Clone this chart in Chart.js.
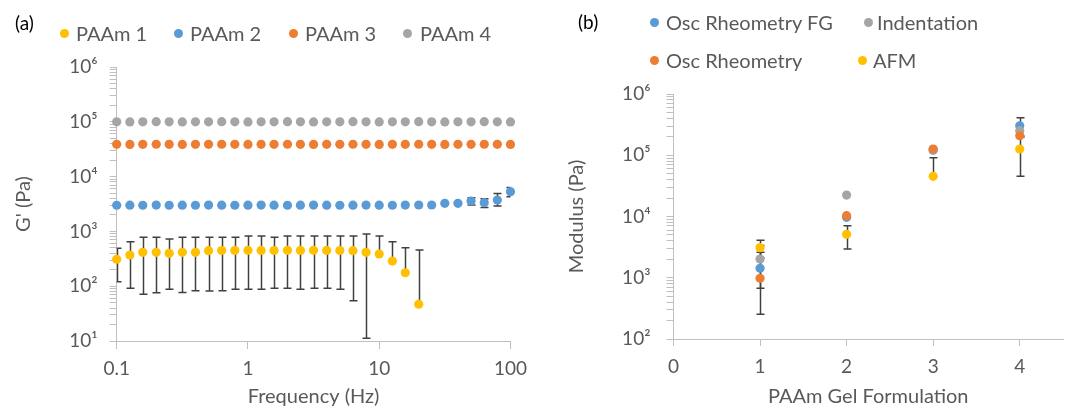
<!DOCTYPE html>
<html>
<head>
<meta charset="utf-8">
<script src="https://cdn.jsdelivr.net/npm/chart.js@4.4.1/dist/chart.umd.min.js"></script>
<style>
html,body{margin:0;padding:0;background:#fff;}
#wrap{position:relative;width:1070px;height:410px;overflow:hidden;font-family:Lato,'Open Sans',sans-serif;}
.panel{position:absolute;top:0;width:535px;height:410px;}
#pa{left:0;} #pb{left:535px;}
.plab{position:absolute;color:#000;font-size:19px;line-height:1;transform:translateY(-50%);}
.ldot{position:absolute;width:9px;height:9px;border-radius:50%;}
.ltxt{position:absolute;color:#595959;font-size:20px;line-height:1;white-space:nowrap;transform:translateY(-50%);}
</style>
</head>
<body>
<div id="wrap">
  <div class="panel" id="pa"><canvas id="ca" width="535" height="410"></canvas></div>
  <div class="panel" id="pb"><canvas id="cb" width="535" height="410"></canvas></div>
  <div class="plab" style="left:15px;top:22px;">(a)</div>
  <div class="plab" style="left:578px;top:21px;">(b)</div>
</div>
<script>
// ---------------- DATA: panel (a) ----------------
const freqHz = [0.1,0.126,0.158,0.2,0.251,0.316,0.398,0.501,0.631,0.794,1,1.26,1.58,2,2.51,3.16,3.98,5.01,6.31,7.94,10,12.6,15.8,20,25.1,31.6,39.8,50.1,63.1,79.4,100];
const paam1 = [310,371,415,415,398,415,415,445,448,450,452,450,448,452,450,452,450,448,445,415,387,288,176,47];
const paam1Hi = [492,649,780,780,726,780,780,780,780,780,824,824,780,824,824,824,824,824,824,897,824,649,505,458];
const paam1Lo = [121,92,71,76,88,77,83,82,83,88,88,88,92,92,88,92,92,88,54,11.2,null,null,null,null];
const paam2 = [3000,3010,3000,3020,3000,3010,3000,3020,3010,3000,3010,3020,3010,3000,3010,3020,3010,3000,3010,3020,3010,3000,3020,3030,3030,3260,3260,3590,3340,3740,5300];
const paam2Hi = [null,null,null,null,null,null,null,null,null,null,null,null,null,null,null,null,null,null,null,null,null,null,null,null,null,null,null,4120,3940,4900,6300];
const paam2Lo = [null,null,null,null,null,null,null,null,null,null,null,null,null,null,null,null,null,null,null,null,null,null,null,null,null,null,null,3040,2740,2900,4300];
const paam3 = [38800,38700,38800,38900,38800,38700,38800,38800,38900,38800,38700,38800,38800,38900,38800,38700,38800,38800,38900,38800,38700,38800,38800,38900,38800,38700,38800,38800,38900,38800,38700];
const paam4 = [100000,99500,100000,100500,100000,99500,100000,100000,100500,100000,99500,100000,100000,100500,100000,99500,100000,100000,100500,100000,99500,100000,100000,100500,100000,99500,100000,100000,100500,100000,99500];
const freqTickLabels = [0.1, 1, 10, 100];
const gDecades = [10, 100, 1000, 10000, 100000, 1000000];

// ---------------- DATA: panel (b) ----------------
const formulation = [1, 2, 3, 4];
const oscFG = [1430, 9700, 121000, 303000];
const oscFGHi = [2610, null, null, 410000];
const oscFGLo = [253, null, null, 196000];
const indentation = [2020, 22400, 124000, 252000];
const indentationHi = [3370, null, null, null];
const indentationLo = [673, null, null, null];
const oscRheo = [980, 10300, 126000, 208000];
const afm = [3100, 5120, 45300, 126000];
const afmHi = [4080, 7080, 91200, 207000];
const afmLo = [2120, 2940, null, 45300];
const formulationTicks = [0, 1, 2, 3, 4];
const modDecades = [100, 1000, 10000, 100000, 1000000];

// ---------------- STYLE ----------------
const C = {yellow:'#FFC000', blue:'#5B9BD5', orange:'#ED7D31', gray:'#A5A5A5', text:'#595959', axis:'#BFBFBF', err:'#404040'};
const FONT = 'Lato';
Chart.defaults.font.family = FONT;
Chart.defaults.color = C.text;

const legendA = [
  {text:'PAAm 1', color:C.yellow, dot:[64,33], tx:76},
  {text:'PAAm 2', color:C.blue, dot:[178,33], tx:190},
  {text:'PAAm 3', color:C.orange, dot:[293,33], tx:305},
  {text:'PAAm 4', color:C.gray, dot:[407,33], tx:420}
];
const legendB = [
  {text:'Osc Rheometry FG', color:C.blue, dot:[654,22], tx:666},
  {text:'Indentation', color:C.gray, dot:[868,22], tx:877},
  {text:'Osc Rheometry', color:C.orange, dot:[654,60], tx:666},
  {text:'AFM', color:C.yellow, dot:[862,60], tx:873}
];
const wrap = document.getElementById('wrap');
[...legendA, ...legendB].forEach(it => {
  const d = document.createElement('div');
  d.className = 'ldot';
  d.style.left = (it.dot[0] - 4.5) + 'px';
  d.style.top = (it.dot[1] - 4.5) + 'px';
  d.style.background = it.color;
  wrap.appendChild(d);
  const t = document.createElement('div');
  t.className = 'ltxt';
  t.style.left = it.tx + 'px';
  t.style.top = it.dot[1] + 'px';
  t.textContent = it.text;
  wrap.appendChild(t);
});

const SUP = {'1':'\u00B9','2':'\u00B2','3':'\u00B3','4':'\u2074','5':'\u2075','6':'\u2076'};
function powLabel(v) {
  const e = Math.log10(v);
  const r = Math.round(e);
  return Math.abs(e - r) < 1e-6 ? '10' + SUP[String(r)] : '';
}
function logMinorTicks(decades) {
  const out = [];
  decades.forEach((d, i) => {
    if (i === decades.length - 1) { out.push(d); return; }
    for (let k = 1; k <= 9; k++) out.push(d * k);
  });
  return out;
}

const errorBars = {
  id: 'errorBars',
  beforeDatasetsDraw(chart, args, opts) {
    const {ctx, chartArea, scales} = chart;
    const xs = scales.x, ys = scales.y;
    ctx.save();
    ctx.beginPath();
    ctx.rect(chartArea.left, chartArea.top - 20, chartArea.right - chartArea.left, chartArea.bottom - chartArea.top + 20);
    ctx.clip();
    ctx.strokeStyle = opts.color;
    ctx.lineWidth = opts.width;
    const cap = opts.cap;
    chart.data.datasets.forEach(ds => {
      if (!ds.errHi && !ds.errLo) return;
      ds.data.forEach((p, i) => {
        const hi = ds.errHi ? ds.errHi[i] : null;
        const lo = ds.errLo ? ds.errLo[i] : null;
        if (hi == null && lo == null) return;
        const px = Math.round(xs.getPixelForValue(p.x)) + 0.5;
        const py = ys.getPixelForValue(p.y);
        const yh = hi != null ? ys.getPixelForValue(hi) : py;
        const yl = lo != null ? ys.getPixelForValue(lo) : py;
        ctx.beginPath();
        ctx.moveTo(px, yh); ctx.lineTo(px, yl);
        if (hi != null) { ctx.moveTo(px - cap, yh); ctx.lineTo(px + cap, yh); }
        if (lo != null) { ctx.moveTo(px - cap, yl); ctx.lineTo(px + cap, yl); }
        ctx.stroke();
      });
    });
    ctx.restore();
  }
};

function pts(xs, ys) { return ys.map((v, i) => ({x: xs[i], y: v})); }
function ds(label, xs, ys, color, order, hi, lo) {
  return {label, data: pts(xs, ys), backgroundColor: color, borderColor: color, borderWidth: 0,
    pointRadius: 4.6, pointHoverRadius: 4.6, showLine: false, clip: false, order, errHi: hi, errLo: lo};
}
const tickFont = {family: FONT, size: 19};
const titleFont = {family: FONT, size: 20};

// ---------------- Chart (a) ----------------
new Chart(document.getElementById('ca'), {
  type: 'scatter',
  data: {datasets: [
    ds('PAAm 1', freqHz, paam1, C.yellow, 1, paam1Hi, paam1Lo),
    ds('PAAm 2', freqHz, paam2, C.blue, 2, paam2Hi, paam2Lo),
    ds('PAAm 3', freqHz, paam3, C.orange, 3),
    ds('PAAm 4', freqHz, paam4, C.gray, 4)
  ]},
  plugins: [errorBars],
  options: {
    responsive: false, animation: false, events: [],
    layout: {padding: {left: 0, right: 21, top: 67, bottom: 0}},
    plugins: {legend: {display: false}, tooltip: {enabled: false},
      errorBars: {color: C.err, width: 1.5, cap: 4}},
    scales: {
      x: {
        type: 'logarithmic', min: 0.1, max: 100,
        afterBuildTicks: s => { s.ticks = freqTickLabels.map(v => ({value: v})); },
        afterFit: s => { s.height = 69; },
        ticks: {callback: v => String(v), font: tickFont, color: C.text, padding: 8, autoSkip: false, maxRotation: 0},
        grid: {display: true, drawOnChartArea: false, drawTicks: true, tickLength: 8, color: C.axis},
        border: {display: true, color: C.axis, width: 1},
        title: {display: true, text: 'Frequency (Hz)', font: titleFont, color: C.text, padding: {top: 0, bottom: 1}}
      },
      y: {
        type: 'logarithmic', min: 10, max: 1000000,
        afterBuildTicks: s => { s.ticks = logMinorTicks(gDecades).map(v => ({value: v})); },
        afterFit: s => { s.width = 116.7; },
        ticks: {callback: v => powLabel(v), font: tickFont, color: C.text, padding: 12, autoSkip: false},
        grid: {display: true, drawOnChartArea: false, drawTicks: true, tickLength: 7, color: C.axis},
        border: {display: true, color: C.axis, width: 1},
        title: {display: true, text: "G' (Pa)", font: titleFont, color: C.text, padding: {top: 12, bottom: 0}}
      }
    }
  }
});

// ---------------- Chart (b) ----------------
new Chart(document.getElementById('cb'), {
  type: 'scatter',
  data: {datasets: [
    ds('Osc Rheometry FG', formulation, oscFG, C.blue, 4, oscFGHi, oscFGLo),
    ds('Indentation', formulation, indentation, C.gray, 3, indentationHi, indentationLo),
    ds('Osc Rheometry', formulation, oscRheo, C.orange, 2),
    ds('AFM', formulation, afm, C.yellow, 1, afmHi, afmLo)
  ]},
  plugins: [errorBars],
  options: {
    responsive: false, animation: false, events: [],
    layout: {padding: {left: 0, right: 7, top: 94, bottom: 0}},
    plugins: {legend: {display: false}, tooltip: {enabled: false},
      errorBars: {color: C.err, width: 1.5, cap: 4}},
    scales: {
      x: {
        type: 'linear', min: 0, max: 4.5,
        afterBuildTicks: s => { s.ticks = formulationTicks.map(v => ({value: v})); },
        afterFit: s => { s.height = 71; },
        ticks: {callback: v => String(v), font: tickFont, color: C.text, padding: 9, autoSkip: false, maxRotation: 0},
        grid: {display: true, drawOnChartArea: false, drawTicks: true, tickLength: 7, color: C.axis},
        border: {display: true, color: C.axis, width: 1},
        title: {display: true, text: 'PAAm Gel Formulation', font: titleFont, color: C.text, padding: {top: 0, bottom: 1}}
      },
      y: {
        type: 'logarithmic', min: 100, max: 1000000,
        afterBuildTicks: s => { s.ticks = logMinorTicks(modDecades).map(v => ({value: v})); },
        afterFit: s => { s.width = 138.5; },
        ticks: {callback: v => powLabel(v), font: tickFont, color: C.text, padding: 16, autoSkip: false},
        grid: {display: true, drawOnChartArea: false, drawTicks: true, tickLength: 7, color: C.axis},
        border: {display: true, color: C.axis, width: 1},
        title: {display: true, text: 'Modulus (Pa)', font: titleFont, color: C.text, padding: {top: 30, bottom: 0}}
      }
    }
  }
});
</script>
</body>
</html>
